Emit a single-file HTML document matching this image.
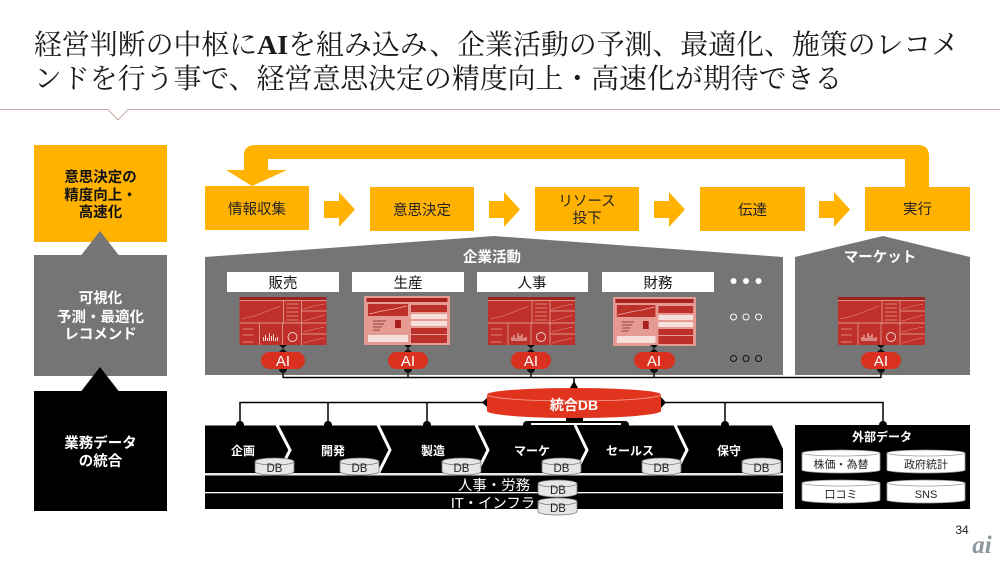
<!DOCTYPE html>
<html lang="ja">
<head>
<meta charset="utf-8">
<title>経営判断</title>
<style>
html,body{margin:0;padding:0;background:#fff;width:1000px;height:563px;overflow:hidden}
svg{display:block}
text{font-family:"Liberation Sans","Noto Sans CJK JP",sans-serif;text-anchor:middle}
.t{font-family:"Liberation Serif","Noto Serif CJK SC",serif;font-size:27.9px;text-anchor:start;fill:#1a1a1a}
.k{font-size:14.5px;fill:#222}
.w{font-size:14.5px;font-weight:700;fill:#fff}
.b{font-size:14.5px;font-weight:700;fill:#111}
.l{font-size:14.5px;fill:#111}
.p{font-size:12px;font-weight:700;fill:#fff}
.d{font-size:11.5px;fill:#222}
.e{font-size:11px;fill:#222}
</style>
</head>
<body>
<svg width="1000" height="563" viewBox="0 0 1000 563" xmlns="http://www.w3.org/2000/svg">
<defs>
<g id="dashA">
  <rect width="87" height="48" fill="#c0302a"/>
  <rect width="87" height="3" fill="#9a231e"/>
  <path d="M0 3.500H87M44 3.500V26M0 26H87M62 3.500V48M20 26V48M43 26V48M62 14H87M62 26H87M62 37H87" stroke="#e8b0aa" stroke-width=".7" fill="none"/>
  <path d="M2 22L15 19L28 14L41 9M64 12L75 9L85 7M64 24L75 21L85 18M64 35L75 32L85 30M64 46L75 43L85 41" stroke="#e08f86" stroke-width=".6" fill="none"/>
  <path d="M24 44V40M26 44V38M28 44V41M30 44V36M32 44V39M34 44V37M36 44V41M38 44V40" stroke="#f3d8d4" stroke-width="1"/>
  <circle cx="53" cy="40" r="4.500" fill="none" stroke="#f3d8d4" stroke-width=".9"/>
  <path d="M47 7H59M47 11H59M47 15H59M47 19H59M47 23H59M3 32H14M3 38H14M3 45H14" stroke="#e29d95" stroke-width=".8"/>
</g>
<g id="dashB">
  <rect width="86" height="49" fill="#e59a94"/>
  <rect x="2.500" y="2" width="81" height="4" fill="#a8231e"/>
  <rect x="4" y="8" width="40" height="12" fill="#bd2f29"/>
  <path d="M5 18L18 15L30 13L43 10" stroke="#eeb0a8" stroke-width=".7" fill="none"/>
  <rect x="47" y="9" width="36" height="7" fill="#bd2f29"/>
  <rect x="47" y="18" width="36" height="5" fill="#f7dfdc"/>
  <rect x="47" y="25" width="36" height="5" fill="#f7dfdc"/>
  <rect x="47" y="32" width="36" height="6" fill="#bd2f29"/>
  <rect x="47" y="39" width="36" height="8" fill="#bd2f29"/>
  <rect x="4" y="39" width="40" height="7" fill="#f7dfdc"/>
  <rect x="31" y="24" width="6" height="8" fill="#a8201b"/>
  <path d="M9 25H22M9 28H20M9 31H18M9 34H16" stroke="#7d2520" stroke-width=".8"/>
</g>
<g id="ai">
  <path d="M-4 -7L4 -7L0 -3.500L4 0L-4 0L0 -3.500Z" fill="#111"/>
  <circle cx="0" cy="17" r="4" fill="#111"/>
  <rect x="-.75" y="17" width="1.500" height="9" fill="#111"/>
</g>
<g id="cyl">
  <path d="M0 3.500A19.500 3.500 0 0 1 39 3.500V13.500A19.500 3.500 0 0 1 0 13.500Z" fill="#e6e6e6" stroke="#777" stroke-width=".8"/>
  <path d="M0 3.500A19.500 3.500 0 0 0 39 3.500" fill="none" stroke="#777" stroke-width=".8"/>
</g>
<g id="cylE">
  <path d="M0 3A39 3 0 0 1 78 3V20A39 3 0 0 1 0 20Z" fill="#fff" stroke="#999" stroke-width=".8"/>
  <path d="M0 3A39 3 0 0 0 78 3" fill="none" stroke="#999" stroke-width=".8"/>
</g>
</defs>

<rect width="1000" height="563" fill="#fff"/>

<!-- title -->
<text class="t" x="34" y="54"><tspan>経営判断の中枢に</tspan><tspan font-weight="700">AI</tspan><tspan>を組み込み、企業活動の予測、最適化、施策のレコメ</tspan></text>
<text class="t" x="34" y="88">ンドを行う事で、経営意思決定の精度向上・高速化が期待できる</text>
<path d="M0 109.500H108L118 120L128 109.500H1000" fill="none" stroke="#c9aca6" stroke-width="1"/>

<!-- left column -->
<rect x="34" y="145" width="133" height="97" fill="#ffb300"/>
<rect x="34" y="255" width="133" height="121" fill="#757575"/>
<path d="M81 255.500L100 231L119 255.500Z" fill="#757575"/>
<rect x="34" y="391" width="133" height="120" fill="#000"/>
<path d="M81 391.500L100 367L119 391.500Z" fill="#000"/>
<text class="b" x="100.500" y="182">意思決定の</text>
<text class="b" x="100.500" y="200">精度向上・</text>
<text class="b" x="100.500" y="217">高速化</text>
<text class="w" x="100.500" y="303">可視化</text>
<text class="w" x="100.500" y="322">予測・最適化</text>
<text class="w" x="100.500" y="339">レコメンド</text>
<text class="w" x="100.500" y="448">業務データ</text>
<text class="w" x="100.500" y="466">の統合</text>

<!-- feedback arrow -->
<path d="M905 188V159H268V170H287L252 186L226 170H244V155Q244 145 256 145H918Q929 145 929 156V188Z" fill="#ffb300"/>

<!-- process boxes -->
<g fill="#ffb300">
<rect x="205" y="186" width="104" height="44"/>
<rect x="370" y="187" width="104" height="44"/>
<rect x="535" y="187" width="104" height="44"/>
<rect x="700" y="187" width="105" height="44"/>
<rect x="865" y="187" width="105" height="44"/>
<path d="M324 201H339V192L355 209.500L339 227V218H324Z"/>
<path d="M489 201H504V192L520 209.500L504 227V218H489Z"/>
<path d="M654 201H669V192L685 209.500L669 227V218H654Z"/>
<path d="M819 201H834V192L850 209.500L834 227V218H819Z"/>
</g>
<text class="k" x="257" y="214">情報収集</text>
<text class="k" x="422" y="215">意思決定</text>
<text class="k" x="587" y="206">リソース</text>
<text class="k" x="587" y="223">投下</text>
<text class="k" x="752.500" y="215">伝達</text>
<text class="k" x="917.500" y="214">実行</text>

<!-- houses -->
<path d="M205 257L494 236L783 257V375H205Z" fill="#757575"/>
<path d="M795 257L883 236L970 257V375H795Z" fill="#757575"/>
<text class="w" x="492" y="262">企業活動</text>
<text class="w" x="880" y="262">マーケット</text>

<g fill="#fff">
<rect x="227" y="272" width="112" height="20"/>
<rect x="352" y="272" width="112" height="20"/>
<rect x="477" y="272" width="111" height="20"/>
<rect x="602" y="272" width="112" height="20"/>
</g>
<text class="l" x="283" y="288">販売</text>
<text class="l" x="408" y="288">生産</text>
<text class="l" x="532" y="288">人事</text>
<text class="l" x="658" y="288">財務</text>

<use href="#dashA" x="239.500" y="297"/>
<use href="#dashB" x="364" y="296"/>
<use href="#dashA" x="488" y="297"/>
<g transform="translate(613 297) scale(.965 1)"><use href="#dashB"/></g>
<use href="#dashA" x="838" y="297"/>

<use href="#ai" x="283" y="352"/>
<use href="#ai" x="408" y="352"/>
<use href="#ai" x="531" y="352"/>
<use href="#ai" x="654" y="352"/>
<use href="#ai" x="881" y="352"/>
<g fill="#d9301f">
<rect x="261" y="352" width="44" height="17" rx="8.500"/>
<rect x="388" y="352" width="40" height="17" rx="8.500"/>
<rect x="511" y="352" width="40" height="17" rx="8.500"/>
<rect x="634" y="352" width="41" height="17" rx="8.500"/>
<rect x="861" y="352" width="40" height="17" rx="8.500"/>
</g>
<text x="283" y="366" fill="#fff" font-size="15">AI</text>
<text x="408" y="366" fill="#fff" font-size="15">AI</text>
<text x="531" y="366" fill="#fff" font-size="15">AI</text>
<text x="654" y="366" fill="#fff" font-size="15">AI</text>
<text x="881" y="366" fill="#fff" font-size="15">AI</text>

<g fill="#fff">
<circle cx="733.500" cy="281" r="3"/><circle cx="746" cy="281" r="3"/><circle cx="758.500" cy="281" r="3"/>
</g>
<g fill="none" stroke="#fff" stroke-width="1">
<circle cx="733.500" cy="317" r="3"/><circle cx="746" cy="317" r="3"/><circle cx="758.500" cy="317" r="3"/>
</g>
<g fill="none" stroke="#111" stroke-width="1">
<circle cx="733.500" cy="358.500" r="3"/><circle cx="746" cy="358.500" r="3"/><circle cx="758.500" cy="358.500" r="3"/>
</g>

<!-- bus lines -->
<path d="M283 377.500H881M574 377.500V388" fill="none" stroke="#000" stroke-width="1.500"/>
<path d="M570 388L574 381L578 388Z" fill="#000"/>
<path d="M240 425V402.500H487M328 402.500V425M427 402.500V425M662 402.500H883V425M725 402.500V425" fill="none" stroke="#000" stroke-width="1.500"/>
<path d="M488 397L482 402.500L488 408Z" fill="#000"/>
<path d="M661 397L666 402.500L661 408Z" fill="#000"/>
<g fill="#000">
<circle cx="240" cy="425" r="4"/><circle cx="328" cy="425" r="4"/><circle cx="427" cy="425" r="4"/>
<circle cx="527" cy="425" r="4"/><circle cx="625" cy="425" r="4"/><circle cx="725" cy="425" r="4"/><circle cx="883" cy="425" r="4"/>
</g>
<rect x="526" y="421" width="100" height="5" rx="2" fill="#000"/>
<rect x="566" y="417.500" width="17" height="4" fill="#000"/>

<!-- integrated DB -->
<path d="M487 394.500A87 6.500 0 0 1 661 394.500V411A87 7 0 0 1 487 411Z" fill="#e0341f"/>
<path d="M487 394.500A87 6.500 0 0 0 661 394.500" fill="none" stroke="#f5a898" stroke-width=".8"/>
<text x="574" y="410" font-size="14" font-weight="700" fill="#fff">統合DB</text>

<!-- process band -->
<path d="M205 425.500H772L783 449V509H205Z" fill="#000"/>
<rect x="531" y="423" width="90" height="2" fill="#fff"/>
<g fill="none" stroke="#fff" stroke-width="3">
<path d="M277 425L290 450L278 474"/>
<path d="M378 425L390 450L378 474"/>
<path d="M476 425L488 450L476 474"/>
<path d="M575 425L587 450L575 474"/>
<path d="M675 425L687 450L675 474"/>
</g>
<rect x="205" y="473" width="578" height="2.500" fill="#e8e8e8"/>
<rect x="205" y="492" width="578" height="1.300" fill="#fff"/>
<text class="p" x="243" y="455">企画</text>
<text class="p" x="333" y="455">開発</text>
<text class="p" x="433" y="455">製造</text>
<text class="p" x="532" y="455">マーケ</text>
<text class="p" x="630" y="455">セールス</text>
<text class="p" x="729" y="455">保守</text>
<text x="494" y="490" font-size="14.4" fill="#fff">人事・労務</text>
<text x="493" y="508" font-size="14.4" fill="#fff">IT・インフラ</text>

<use href="#cyl" x="255" y="458"/>
<use href="#cyl" x="340" y="458"/>
<use href="#cyl" x="442" y="458"/>
<use href="#cyl" x="542" y="458"/>
<use href="#cyl" x="642" y="458"/>
<use href="#cyl" x="742" y="458"/>
<use href="#cyl" x="538" y="480"/>
<use href="#cyl" x="538" y="498"/>
<text class="d" x="274.500" y="472">DB</text>
<text class="d" x="359.500" y="472">DB</text>
<text class="d" x="461.500" y="472">DB</text>
<text class="d" x="561.500" y="472">DB</text>
<text class="d" x="661.500" y="472">DB</text>
<text class="d" x="761.500" y="472">DB</text>
<text class="d" x="558" y="494">DB</text>
<text class="d" x="558" y="512">DB</text>

<!-- external data -->
<rect x="795" y="425" width="175" height="84" fill="#000"/>
<text class="p" x="882" y="441">外部データ</text>
<use href="#cylE" x="802" y="450"/>
<use href="#cylE" x="887" y="450"/>
<use href="#cylE" x="802" y="480"/>
<use href="#cylE" x="887" y="480"/>
<text class="e" x="841" y="468">株価・為替</text>
<text class="e" x="926" y="468">政府統計</text>
<text class="e" x="841" y="498">口コミ</text>
<text class="e" x="926" y="498">SNS</text>

<!-- footer -->
<text x="962" y="534" font-size="12" fill="#222">34</text>
<text x="982" y="553" font-size="25" font-style="italic" font-weight="700" fill="#8e979c" style="font-family:'Liberation Serif',serif">ai</text>
</svg>
</body>
</html>
